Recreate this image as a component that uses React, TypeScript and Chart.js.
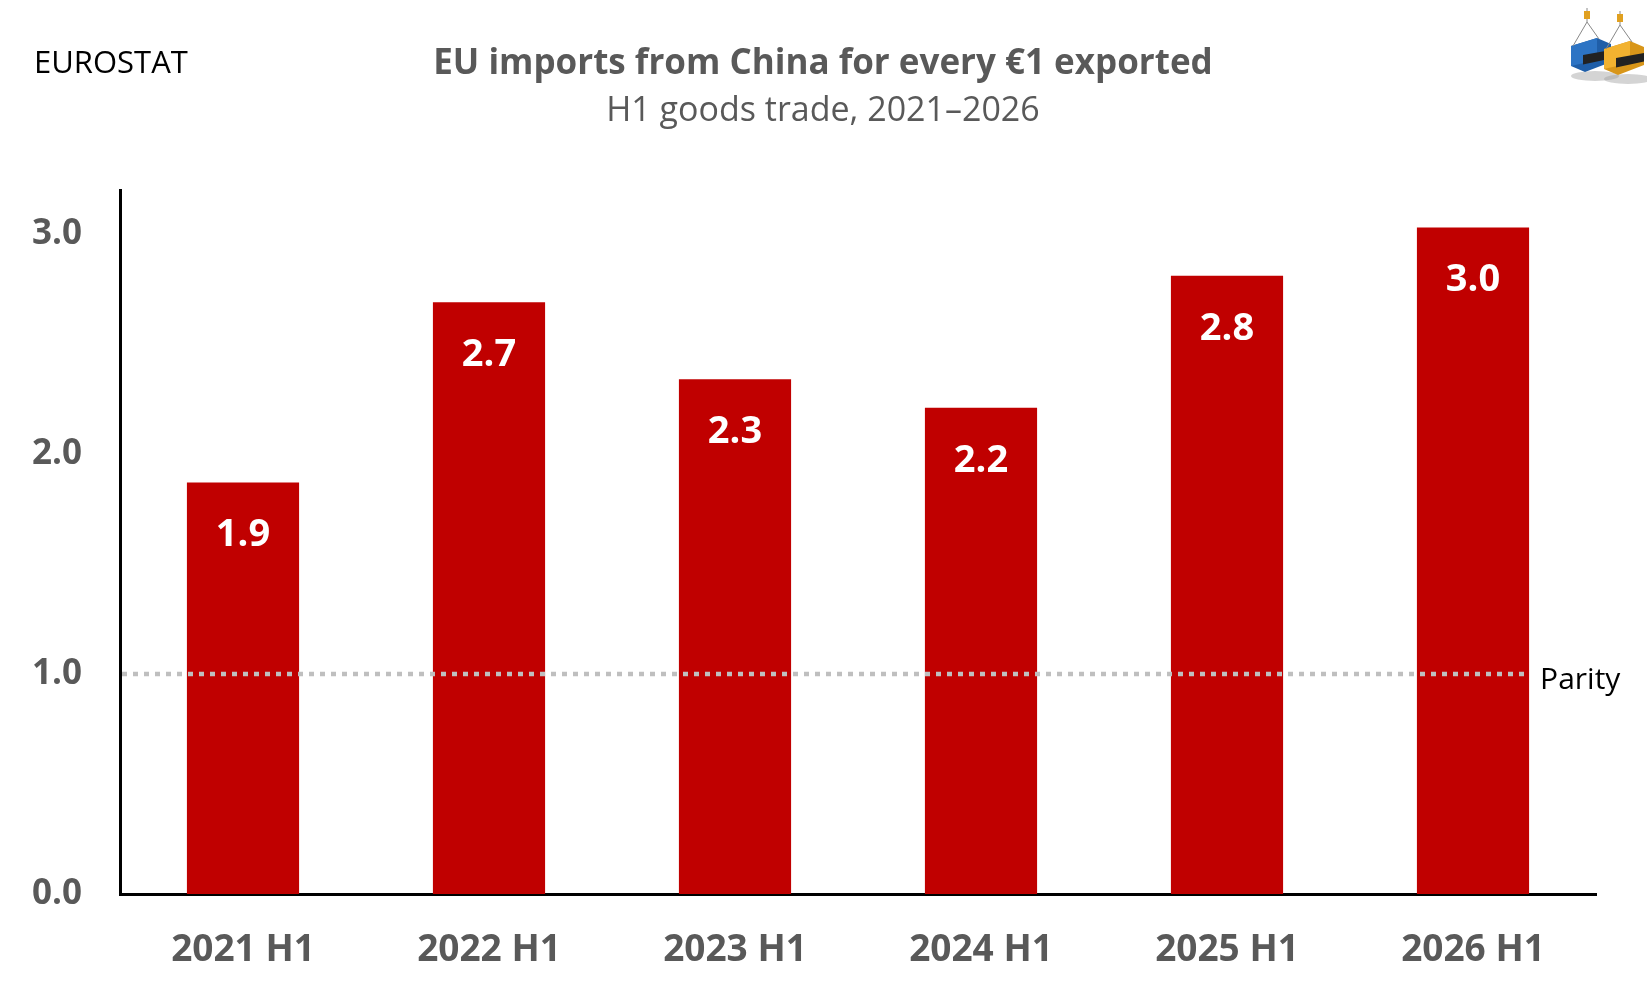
import React, { useEffect, useRef } from "react";
import { Chart, registerables } from "chart.js";

Chart.register(...registerables);

const categories = ["2021 H1", "2022 H1", "2023 H1", "2024 H1", "2025 H1", "2026 H1"];
const ratios = [1.87, 2.69, 2.34, 2.21, 2.81, 3.03];
const yTicks = [0, 1, 2, 3];
const parityValue = 1;
const titleText = "EU imports from China for every €1 exported";
const subtitleText = "H1 goods trade, 2021–2026";
const sourceText = "EUROSTAT";
const parityText = "Parity";

const FONT = "'Open Sans', 'Noto Sans', sans-serif";
const GREY = "#595959";
const RED = "#C00000";

const decorPlugin = {
  id: "decor",
  beforeDraw(chart: any) {
    const { ctx, width, height } = chart;
    ctx.save();
    ctx.fillStyle = "#ffffff";
    ctx.fillRect(0, 0, width, height);
    ctx.restore();
  },
  afterDatasetsDraw(chart: any) {
    const { ctx, chartArea, scales } = chart;
    const meta = chart.getDatasetMeta(0);
    // parity line
    const last = meta.data[meta.data.length - 1] as any;
    const yP = scales.y.getPixelForValue(parityValue);
    const xEnd = last.x + last.width / 2;
    ctx.save();
    ctx.strokeStyle = "#BFBFBF";
    ctx.lineWidth = 4.5;
    ctx.setLineDash([5, 6]);
    ctx.beginPath();
    ctx.moveTo(chartArea.left + 2, yP);
    ctx.lineTo(xEnd, yP);
    ctx.stroke();
    ctx.setLineDash([]);
    ctx.fillStyle = "#000000";
    ctx.font = `30px ${FONT}`;
    ctx.textAlign = "left";
    ctx.textBaseline = "middle";
    ctx.fillText(parityText, xEnd + 11, yP + 6);
    // data labels
    ctx.fillStyle = "#ffffff";
    ctx.font = `bold 38px ${FONT}`;
    ctx.textAlign = "center";
    meta.data.forEach((bar: any, i: number) => {
      ctx.fillText(ratios[i].toFixed(1), bar.x, bar.y + 53);
    });
    ctx.restore();
  },
  afterDraw(chart: any) {
    const { ctx } = chart;
    ctx.save();
    ctx.textBaseline = "middle";
    ctx.textAlign = "center";
    ctx.fillStyle = GREY;
    ctx.font = `bold 35px ${FONT}`;
    ctx.fillText(titleText, 823, 64);
    ctx.font = `34px ${FONT}`;
    ctx.fillText(subtitleText, 823, 111);
    ctx.textAlign = "left";
    ctx.fillStyle = "#000000";
    ctx.font = `31px ${FONT}`;
    ctx.fillText(sourceText, 34, 64);

    // logo (two hanging containers)
    const drawBox = (x: number, y: number, w: number, h: number, front: string, side: string) => {
      ctx.fillStyle = "rgba(160,160,160,0.45)";
      ctx.beginPath();
      ctx.ellipse(x + w / 2 + 4, y + h + 4, w * 0.6, 5, 0, 0, Math.PI * 2);
      ctx.fill();
      ctx.fillStyle = side;
      ctx.beginPath();
      ctx.moveTo(x, y + 8);
      ctx.lineTo(x + w * 0.65, y);
      ctx.lineTo(x + w, y + 6);
      ctx.lineTo(x + w, y + h - 10);
      ctx.lineTo(x + w * 0.35, y + h);
      ctx.lineTo(x, y + h - 6);
      ctx.closePath();
      ctx.fill();
      ctx.fillStyle = front;
      ctx.beginPath();
      ctx.moveTo(x, y + 8);
      ctx.lineTo(x + w * 0.65, y);
      ctx.lineTo(x + w * 0.65, y + h - 12);
      ctx.lineTo(x, y + h - 6);
      ctx.closePath();
      ctx.fill();
      ctx.fillStyle = "#222";
      ctx.beginPath();
      ctx.moveTo(x + w * 0.3, y + h * 0.5);
      ctx.lineTo(x + w, y + h * 0.35);
      ctx.lineTo(x + w, y + h * 0.6);
      ctx.lineTo(x + w * 0.3, y + h * 0.78);
      ctx.closePath();
      ctx.fill();
      ctx.strokeStyle = "#888";
      ctx.lineWidth = 1;
      ctx.beginPath();
      ctx.moveTo(x + w * 0.4, y - 16);
      ctx.lineTo(x + 2, y + 8);
      ctx.moveTo(x + w * 0.4, y - 16);
      ctx.lineTo(x + w * 0.7, y + 1);
      ctx.moveTo(x + w * 0.4, y - 16);
      ctx.lineTo(x + w * 0.4, y - 30);
      ctx.stroke();
      ctx.fillStyle = "#E0A020";
      ctx.fillRect(x + w * 0.4 - 3, y - 27, 6, 8);
    };
    drawBox(1571, 38, 40, 34, "#2D74C4", "#1F5EA8");
    drawBox(1604, 41, 40, 34, "#F2B230", "#D8961A");
    ctx.restore();
  },
};

export default function App() {
  const ref = useRef<HTMLCanvasElement | null>(null);
  useEffect(() => {
    document.body.style.margin = "0";
    const canvas = ref.current;
    if (!canvas) return;
    const chart = new Chart(canvas, {
      type: "bar",
      data: {
        labels: categories,
        datasets: [
          {
            data: ratios,
            backgroundColor: RED,
            borderWidth: 0,
            categoryPercentage: 1,
            barPercentage: 0.456,
          },
        ],
      },
      options: {
        animation: false,
        responsive: false,
        devicePixelRatio: 1,
        layout: { padding: { top: 190, right: 51, bottom: 0, left: 0 } },
        plugins: {
          legend: { display: false },
          tooltip: { enabled: false },
          title: { display: false },
        },
        scales: {
          x: {
            grid: { display: false, drawTicks: false },
            border: { display: true, color: "#000000", width: 3 },
            ticks: {
              color: GREY,
              font: { family: FONT, size: 37, weight: "bold" },
              padding: 34,
              maxRotation: 0,
            },
            afterFit: (s: any) => {
              s.height = 105;
            },
          },
          y: {
            min: 0,
            max: 3.2,
            grid: { display: false, drawTicks: false },
            border: { display: true, color: "#000000", width: 3 },
            ticks: {
              color: GREY,
              font: { family: FONT, size: 35, weight: "bold" },
              padding: 38,
              includeBounds: false,
              callback: (v: any) => Number(v).toFixed(1),
            },
            afterBuildTicks: (s: any) => {
              s.ticks = yTicks.map((v) => ({ value: v }));
            },
            afterFit: (s: any) => {
              s.width = 120;
            },
          },
        },
      },
      plugins: [decorPlugin],
    });
    return () => chart.destroy();
  }, []);
  return (
    <div style={{ position: "fixed", left: 0, top: 0, width: 1647, height: 999, background: "#fff" }}>
      <canvas ref={ref} width={1647} height={999} style={{ width: 1647, height: 999, display: "block" }} />
    </div>
  );
}
